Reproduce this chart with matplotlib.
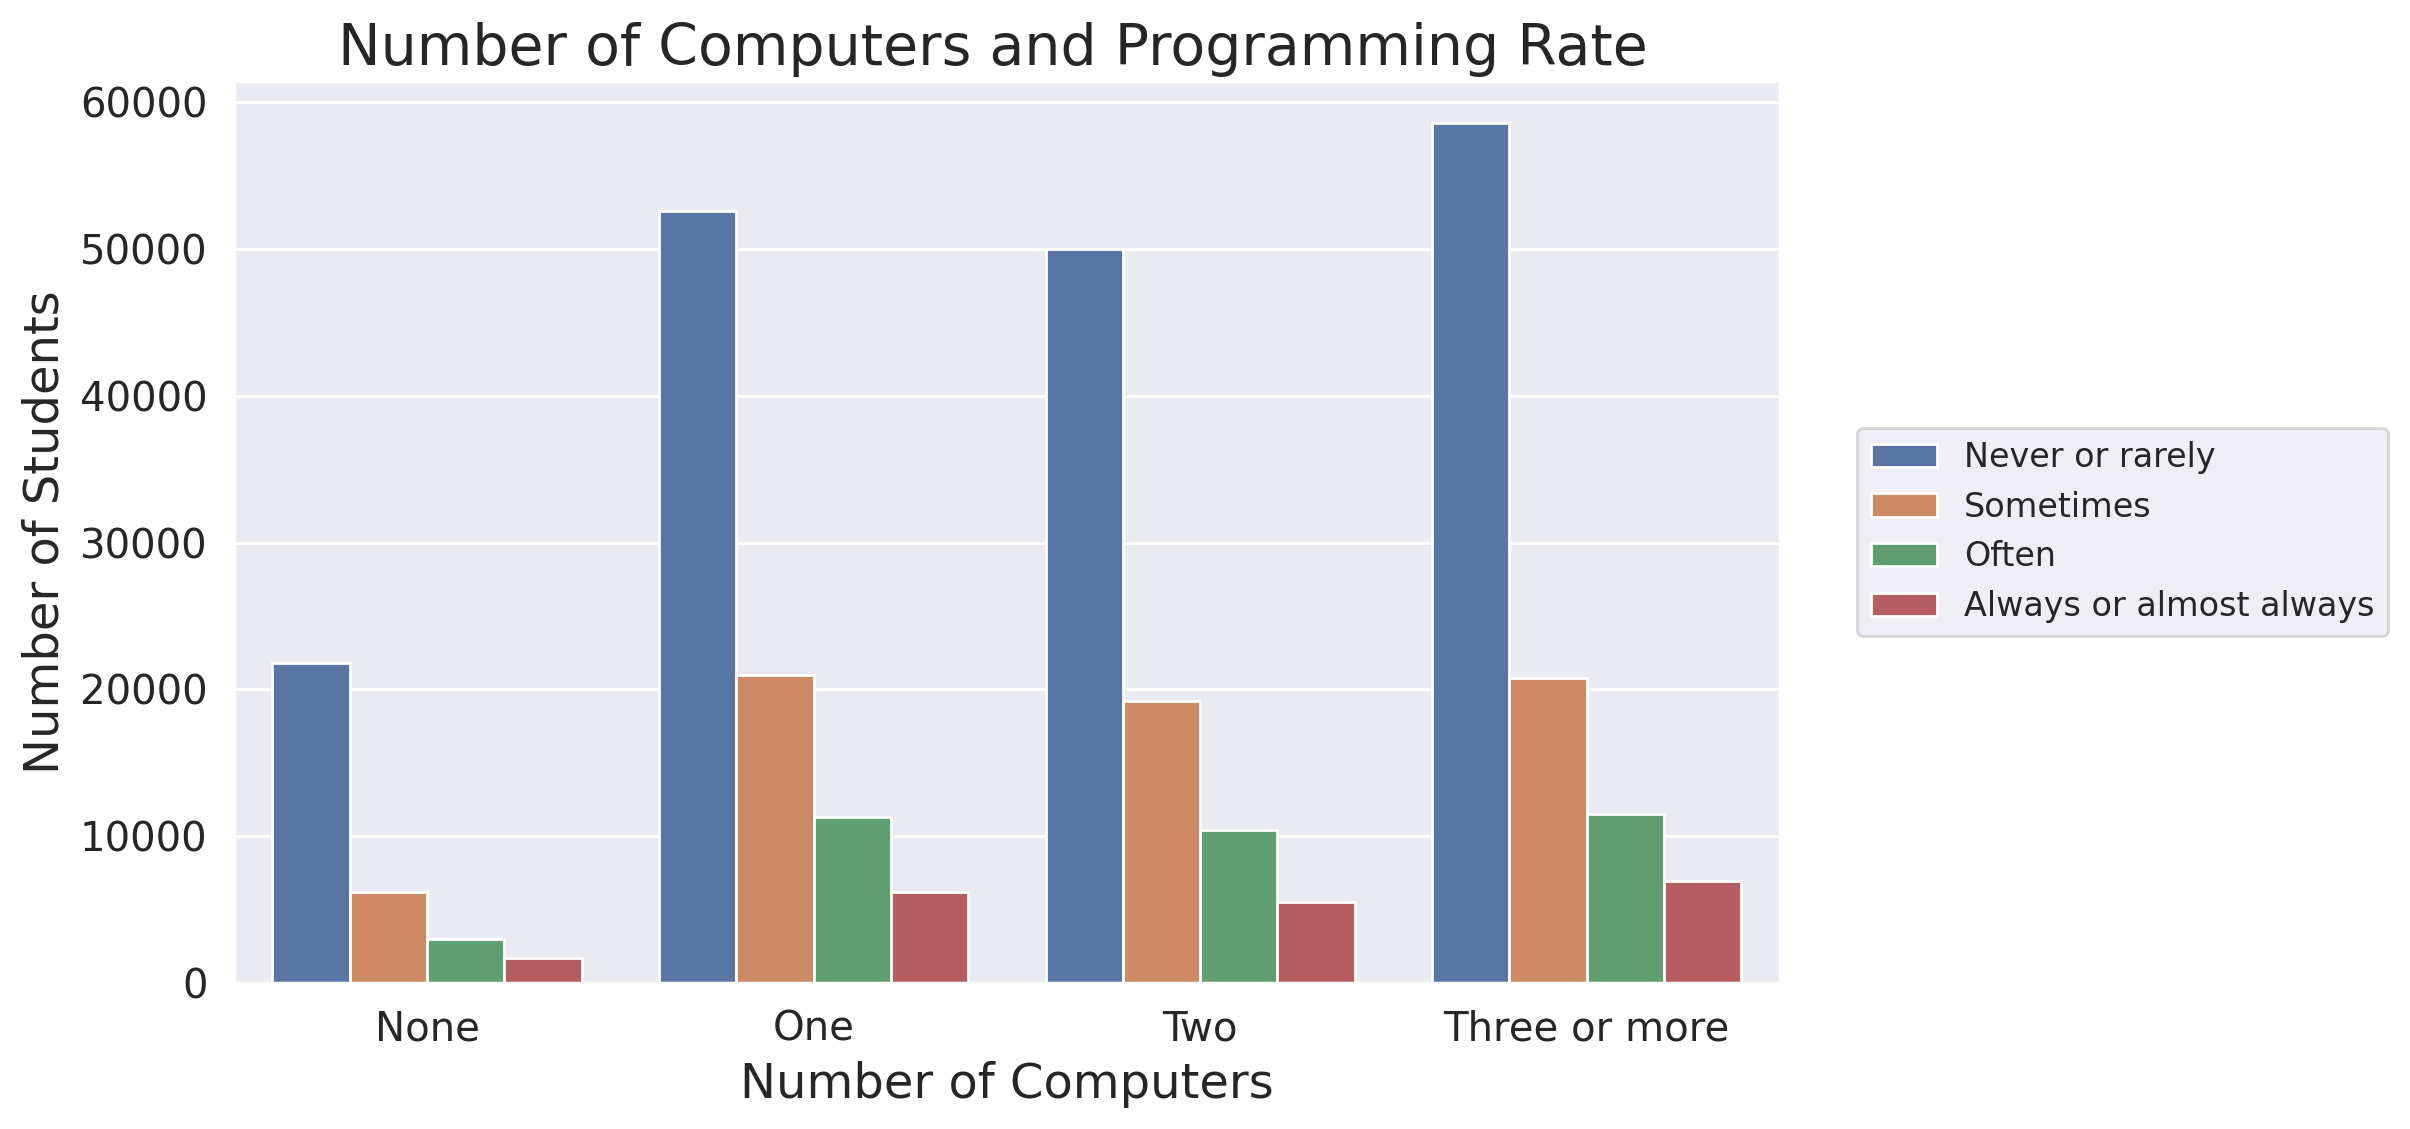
import numpy as np
import matplotlib
matplotlib.use("Agg")
import matplotlib.pyplot as plt
import seaborn as sns

computers = ["None", "One", "Two", "Three or more"]
rates = ["Never or rarely", "Sometimes", "Often", "Always or almost always"]

never = [21830, 52600, 50000, 58590]
sometimes = [6230, 21000, 19230, 20760]
often = [2990, 11330, 10400, 11530]
always = [1720, 6180, 5540, 6970]

colors = ["#5975a4", "#cc8963", "#5f9e6e", "#b55d60"]

sns.set_theme(style="darkgrid")
plt.rcParams['font.family'] = ['DejaVu Sans']

fig = plt.figure(figsize=(2410 / 200, 1129 / 200), dpi=200)
ax = fig.add_axes([0.097, 0.1293, 0.6416, 0.7987])

x = np.arange(len(computers))
w = 0.2
series = [never, sometimes, often, always]
for i, (vals, lab) in enumerate(zip(series, rates)):
    ax.bar(x - 0.3 + i * w, vals, width=w, color=colors[i], label=lab,
           edgecolor="white", linewidth=1)

ax.set_xticks(x)
ax.set_xticklabels(computers)
ax.set_xlim(-0.5, 3.5)
ax.set_ylim(0, 61440)
ax.grid(False, axis="x")
ax.tick_params(axis="both", labelsize=14.5)
ax.set_xlabel("Number of Computers", fontsize=17.3)
ax.set_ylabel("Number of Students", fontsize=17.3)
ax.set_title("Number of Computers and Programming Rate", fontsize=20.5, x=0.491)
ax.legend(loc="center left", bbox_to_anchor=(1.05, 0.5), fontsize=12,
          borderaxespad=0)

fig.savefig("out.png", dpi=200)
